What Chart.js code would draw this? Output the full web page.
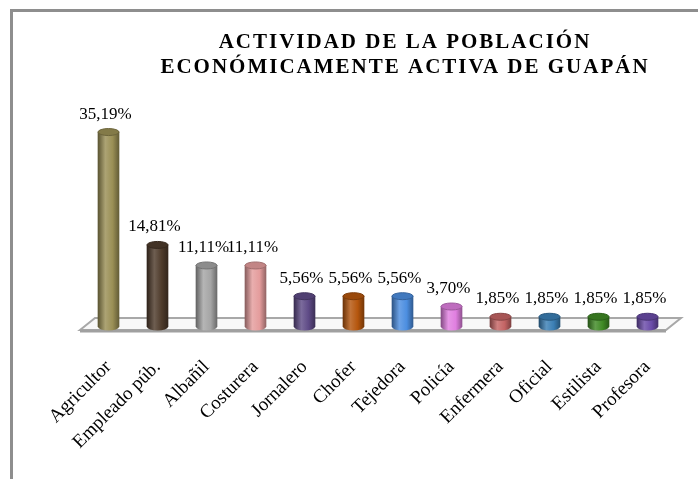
<!DOCTYPE html>
<html>
<head>
<meta charset="utf-8">
<script src="https://cdn.jsdelivr.net/npm/chart.js@4.4.0/dist/chart.umd.min.js"></script>
<style>
  body { margin: 0; background: #fff; }
  #wrap { position: relative; width: 698px; height: 479px; }
  #frame { position: absolute; left: 10px; top: 9px; right: 0; bottom: 0;
           border-top: 3px solid #8e8e8e; border-left: 3px solid #8e8e8e; }
  canvas { position: absolute; left: 0; top: 0; }
</style>
</head>
<body>
<div id="wrap">
  <div id="frame"></div>
  <canvas id="myBarChart" width="698" height="479"></canvas>
</div>
<script>
var titleLines = ['ACTIVIDAD DE LA POBLACIÓN', 'ECONÓMICAMENTE ACTIVA DE GUAPÁN'];
var categories = ['Agricultor', 'Empleado púb.', 'Albañil', 'Costurera', 'Jornalero', 'Chofer',
                  'Tejedora', 'Policía', 'Enfermera', 'Oficial', 'Estilista', 'Profesora'];
var percentages = [35.19, 14.81, 11.11, 11.11, 5.56, 5.56, 5.56, 3.70, 1.85, 1.85, 1.85, 1.85];
var barColors = ['#9a8f55', '#4e3b2b', '#a5a5a5', '#e49c9c', '#5e4a86', '#b5560d',
                 '#4c8ee0', '#e07fe0', '#c46464', '#3b7fb5', '#3f8a25', '#6a4ba8'];

function shade(hex, f) {
  var n = parseInt(hex.slice(1), 16);
  var r = (n >> 16) & 255, g = (n >> 8) & 255, b = n & 255;
  function c(v) {
    v = f >= 1 ? v + (255 - v) * (f - 1) : v * f;
    return Math.round(Math.max(0, Math.min(255, v)));
  }
  return 'rgb(' + c(r) + ',' + c(g) + ',' + c(b) + ')';
}

function cylGradient(ctx, x, w, color) {
  var g = ctx.createLinearGradient(x - w / 2, 0, x + w / 2, 0);
  g.addColorStop(0, shade(color, 0.6));
  g.addColorStop(0.35, shade(color, 1.18));
  g.addColorStop(0.7, color);
  g.addColorStop(1, shade(color, 0.65));
  return g;
}

var BAR_W = 21;
var RY = 3.5;

// floor plane behind the bars
var floorPlugin = {
  id: 'floor',
  beforeDatasetsDraw: function (chart) {
    var a = chart.chartArea, ctx = chart.ctx;
    var b = a.bottom;
    ctx.save();
    ctx.beginPath();
    ctx.moveTo(a.left - 4, b + 3);
    ctx.lineTo(a.left + 11, b - 9);
    ctx.lineTo(a.right + 9, b - 9);
    ctx.lineTo(a.right - 6, b + 3);
    ctx.closePath();
    ctx.fillStyle = '#f8f8f8';
    ctx.fill();
    ctx.strokeStyle = '#a8a8a8';
    ctx.lineWidth = 2;
    ctx.stroke();
    ctx.beginPath();
    ctx.moveTo(a.left - 4, b + 4);
    ctx.lineTo(a.right - 6, b + 4);
    ctx.lineWidth = 3;
    ctx.strokeStyle = '#a0a0a0';
    ctx.stroke();
    ctx.restore();
  }
};

// cylinder caps and value labels
var cylinderPlugin = {
  id: 'cylinder',
  afterDatasetsDraw: function (chart) {
    var ctx = chart.ctx;
    var meta = chart.getDatasetMeta(0);
    meta.data.forEach(function (bar, i) {
      var col = barColors[i];
      var w = bar.width;
      ctx.save();
      ctx.beginPath();
      ctx.ellipse(bar.x, bar.base, w / 2, RY, 0, 0, Math.PI);
      ctx.fillStyle = cylGradient(ctx, bar.x, w, col);
      ctx.fill();
      ctx.beginPath();
      ctx.ellipse(bar.x, bar.y, w / 2, RY, 0, 0, Math.PI * 2);
      ctx.fillStyle = shade(col, 0.85);
      ctx.fill();
      ctx.strokeStyle = shade(col, 0.7);
      ctx.lineWidth = 1;
      ctx.stroke();
      ctx.fillStyle = '#000';
      ctx.font = '17px "Liberation Serif"';
      ctx.textAlign = 'center';
      ctx.textBaseline = 'middle';
      var txt = percentages[i].toFixed(2).replace('.', ',') + '%';
      ctx.fillText(txt, bar.x - 3, bar.y - 18);
      ctx.restore();
    });
  }
};

// move the title block right and space its letters out like the picture
var titleTweak = {
  id: 'titleTweak',
  afterLayout: function (chart) {
    var tb = chart.titleBlock;
    if (!tb) return;
    tb.left += 27;
    tb.right += 27;
    if (!tb._spaced) {
      var orig = tb.draw;
      tb.draw = function () {
        chart.ctx.save();
        chart.ctx.letterSpacing = '2px';
        orig.apply(this, arguments);
        chart.ctx.restore();
      };
      tb._spaced = true;
    }
  }
};

var ctx = document.getElementById('myBarChart').getContext('2d');

var myBarChart = new Chart(ctx, {
  type: 'bar',
  data: {
    labels: categories,
    datasets: [{
      data: percentages,
      barThickness: BAR_W,
      borderWidth: 0,
      backgroundColor: function (c) {
        var chart = c.chart;
        if (!chart.chartArea || c.dataIndex === undefined) return barColors[c.dataIndex || 0];
        var x = chart.scales.x.getPixelForValue(c.dataIndex);
        return cylGradient(chart.ctx, x, BAR_W, barColors[c.dataIndex]);
      }
    }]
  },
  options: {
    responsive: false,
    animation: false,
    layout: { padding: { top: 17, left: 84, right: 26, bottom: 0 } },
    plugins: {
      legend: { display: false },
      tooltip: { enabled: false },
      title: {
        display: true,
        text: titleLines,
        color: '#000',
        font: { family: '"Liberation Serif"', size: 21, weight: 'bold', lineHeight: 1.2 },
        padding: { top: 13, bottom: 25 }
      }
    },
    scales: {
      x: {
        grid: { display: false, drawTicks: false },
        border: { display: false },
        ticks: {
          color: '#000',
          font: { family: '"Liberation Serif"', size: 19 },
          minRotation: 45,
          maxRotation: 45,
          padding: 29,
          autoSkip: false
        },
        afterFit: function (scale) {
          scale.height = 152;
          scale.paddingLeft = 0;
          scale.paddingRight = 0;
        }
      },
      y: {
        display: false,
        min: 0,
        max: 40
      }
    }
  },
  plugins: [floorPlugin, cylinderPlugin, titleTweak]
});
</script>
</body>
</html>
